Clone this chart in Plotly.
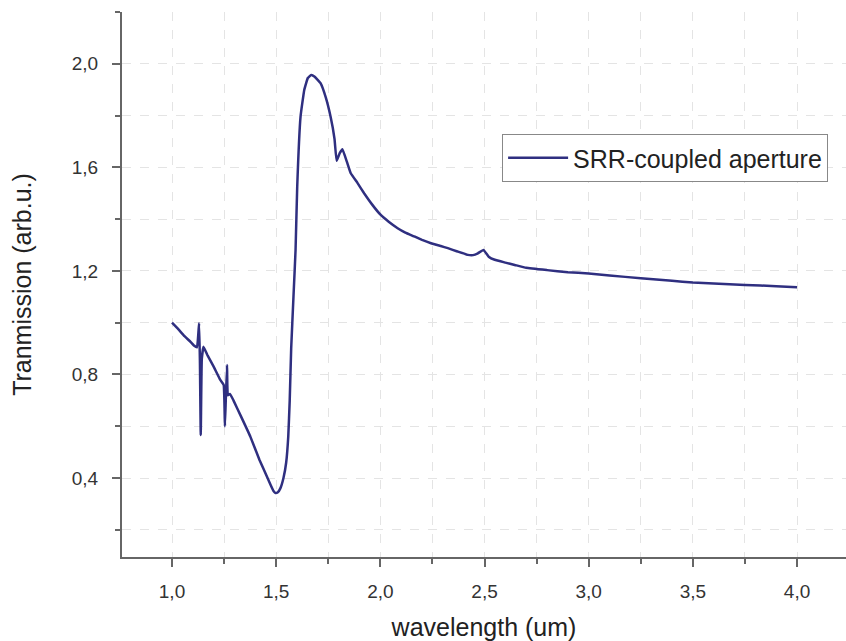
import plotly.graph_objects as go

wavelength = [1.00, 1.03, 1.06, 1.09, 1.105, 1.12, 1.13, 1.134, 1.138, 1.143, 1.151,
              1.17, 1.20, 1.231, 1.248, 1.254, 1.258, 1.264, 1.268, 1.278, 1.295,
              1.33, 1.376, 1.42, 1.456, 1.475, 1.487, 1.497, 1.508, 1.52, 1.535, 1.548,
              1.558, 1.565, 1.572, 1.583, 1.593, 1.601, 1.617, 1.635, 1.652, 1.668, 1.685,
              1.713, 1.738, 1.761, 1.78, 1.79, 1.805, 1.818, 1.84, 1.858, 1.89,
              1.922, 1.96, 2.002, 2.04, 2.083, 2.12, 2.163, 2.20, 2.243, 2.29,
              2.324, 2.37, 2.42, 2.445, 2.468, 2.495, 2.52, 2.549, 2.60, 2.645,
              2.70, 2.80, 2.90, 3.00, 3.10, 3.25, 3.40, 3.50, 3.60, 3.75,
              3.90, 4.00]
transmission = [1.00, 0.975, 0.948, 0.925, 0.912, 0.905, 0.998, 0.85, 0.566, 0.86, 0.907,
                0.875, 0.83, 0.78, 0.76, 0.60, 0.70, 0.837, 0.72, 0.725, 0.70,
                0.64, 0.56, 0.47, 0.405, 0.37, 0.35, 0.342, 0.345, 0.36, 0.40, 0.46,
                0.56, 0.70, 0.90, 1.10, 1.28, 1.526, 1.796, 1.90, 1.945, 1.957, 1.95,
                1.925, 1.87, 1.796, 1.71, 1.625, 1.655, 1.670, 1.62, 1.577, 1.54,
                1.50, 1.457, 1.416, 1.39, 1.365, 1.348, 1.333, 1.32, 1.307, 1.296,
                1.288, 1.275, 1.262, 1.261, 1.268, 1.281, 1.255, 1.243, 1.232, 1.223,
                1.212, 1.203, 1.195, 1.19, 1.182, 1.172, 1.162, 1.155, 1.151, 1.146,
                1.141, 1.137]

series_name = "SRR-coupled aperture"
x_title = "wavelength (um)"
y_title = "Tranmission (arb.u.)"

fig = go.Figure()
fig.add_trace(go.Scatter(
    x=wavelength, y=transmission, mode="lines", name=series_name,
    line=dict(color="#2f2f80", width=2.5, shape="spline", smoothing=0.3),
))

grid_col = "#e4e4e4"
axis_col = "#666666"
font_fam = "Liberation Sans, Arial, sans-serif"

fig.update_layout(
    width=846, height=641,
    margin=dict(l=122, r=0, t=12, b=84),
    paper_bgcolor="white", plot_bgcolor="white",
    separators=", ",
    font=dict(family=font_fam, color="#333333"),
    showlegend=True,
    legend=dict(
        x=0.525, y=0.776, xanchor="left", yanchor="top",
        bgcolor="white", bordercolor="#888888", borderwidth=1,
        font=dict(size=25, color="#222222"),
        itemwidth=60,
    ),
    xaxis=dict(
        range=[0.76, 4.235], tick0=0, dtick=0.5, tickformat=".1f",
        showline=True, linecolor=axis_col, linewidth=2,
        ticks="outside", ticklen=8, tickwidth=2, tickcolor=axis_col,
        tickfont=dict(size=19, color="#333333"),
        ticklabelstandoff=8,
        showgrid=True, gridcolor=grid_col, griddash="dash", gridwidth=1,
        minor=dict(tick0=0, dtick=0.25, ticks="outside", ticklen=5, tickwidth=2,
                   tickcolor=axis_col, showgrid=True, gridcolor=grid_col, griddash="dash"),
        zeroline=False,
        title=dict(text=x_title, font=dict(size=25, color="#222222"), standoff=20),
    ),
    yaxis=dict(
        range=[0.095, 2.2], tick0=0, dtick=0.4, tickformat=".1f",
        showline=True, linecolor=axis_col, linewidth=2,
        ticks="outside", ticklen=8, tickwidth=2, tickcolor=axis_col,
        tickfont=dict(size=19, color="#333333"),
        ticklabelstandoff=10,
        showgrid=True, gridcolor=grid_col, griddash="dash", gridwidth=1,
        minor=dict(tick0=0, dtick=0.2, ticks="outside", ticklen=5, tickwidth=2,
                   tickcolor=axis_col, showgrid=True, gridcolor=grid_col, griddash="dash"),
        zeroline=False,
        title=dict(text=y_title, font=dict(size=25, color="#222222"), standoff=33),
    ),
)

fig.write_html("out.html")
